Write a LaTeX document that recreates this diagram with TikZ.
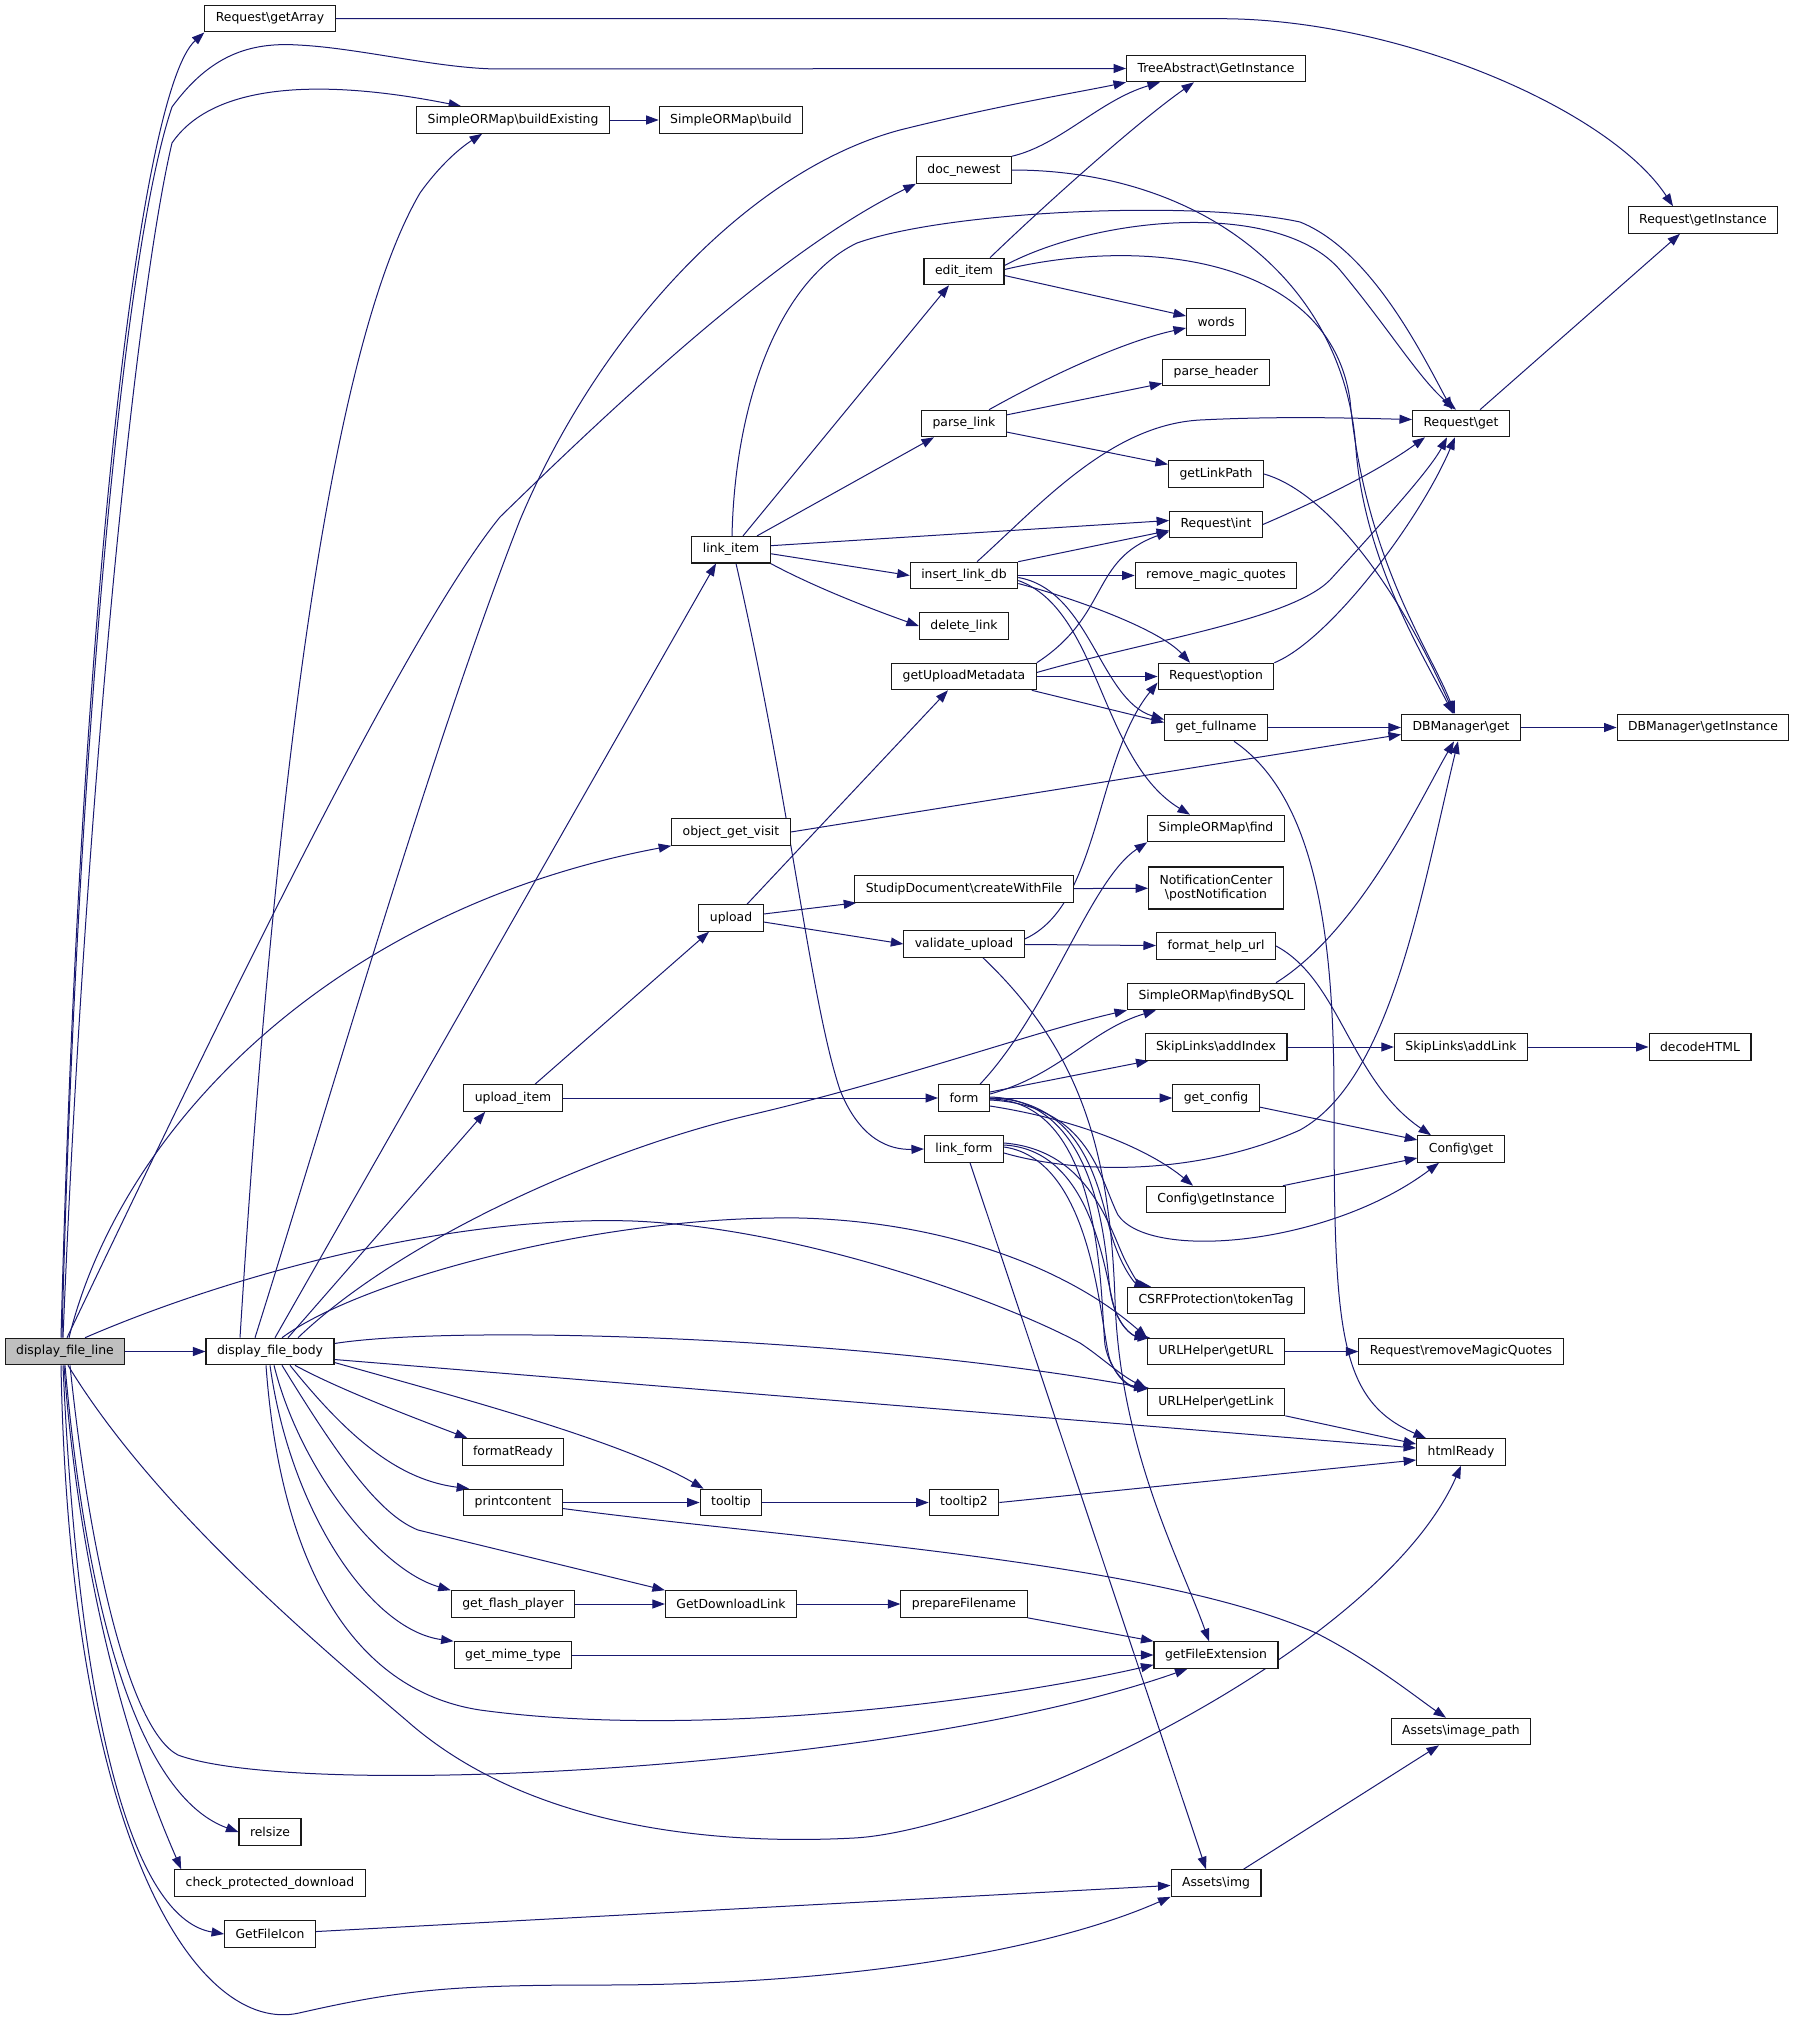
\documentclass[tikz,border=0pt]{standalone}
\usepackage{fontspec}
\setsansfont{DejaVu Sans}
\usepackage{xcolor}
\usetikzlibrary{arrows.meta,backgrounds}

\definecolor{edgeblue}{HTML}{191970}
\definecolor{nodegray}{HTML}{BFBFBF}
\newcommand{\bks}{\textbackslash}

\tikzset{
  fn/.style={draw=black!90, line width=1.1pt, fill=white,
    font=\sffamily\fontsize{12.4}{14.5}\selectfont,
    inner xsep=11pt, inner ysep=0pt, minimum height=26.5pt},
  call/.style={draw=edgeblue, line width=1pt, -{Triangle[length=12.5pt,width=9pt]}}
}

\begin{document}
\begin{tikzpicture}[x=1pt,y=-1pt]
    \useasboundingbox (0,0) rectangle (1797,2018);
    \pgfmathsetmacro{\xa}{65}	%columns
    \pgfmathsetmacro{\xb}{270}
    \pgfmathsetmacro{\xc}{513}
    \pgfmathsetmacro{\xd}{731}
    \pgfmathsetmacro{\xe}{964}
    \pgfmathsetmacro{\xf}{1216}
    \pgfmathsetmacro{\xg}{1461}
    \pgfmathsetmacro{\xh}{1703}

    \node[fn, fill=nodegray] (dfl) at (\xa,1351.5) {display\_file\_line};
    \node[fn] (dfb) at (\xb,1351.5) {display\_file\_body};
    \node[fn] (getArray) at (\xb,18.7) {Request\bks getArray};
    \node[fn] (treeGI) at (\xf,68.5) {TreeAbstract\bks GetInstance};
    \node[fn] (buildEx) at (\xc,120) {SimpleORMap\bks buildExisting};
    \node[fn] (build) at (\xd,120) {SimpleORMap\bks build};
    \node[fn] (docNewest) at (\xe,170) {doc\_newest};
    \node[fn] (reqGetInst) at (\xh,220) {Request\bks getInstance};
    \node[fn] (editItem) at (\xe,271.5) {edit\_item};
    \node[fn] (words) at (\xf,322) {words};
    \node[fn] (parseHeader) at (\xf,372.5) {parse\_header};
    \node[fn] (parseLink) at (\xe,423.5) {parse\_link};
    \node[fn] (reqGet) at (\xg,423.5) {Request\bks get};
    \node[fn] (getLinkPath) at (\xf,474) {getLinkPath};
    \node[fn] (reqInt) at (\xf,524.5) {Request\bks int};
    \node[fn] (linkItem) at (\xd,549.7) {link\_item};
    \node[fn] (insertLinkDb) at (\xe,575.5) {insert\_link\_db};
    \node[fn] (removeMQ) at (\xf,575.5) {remove\_magic\_quotes};
    \node[fn] (deleteLink) at (\xe,626) {delete\_link};
    \node[fn] (getUploadMeta) at (\xe,676.5) {getUploadMetadata};
    \node[fn] (reqOption) at (\xf,676.5) {Request\bks option};
    \node[fn] (getFullname) at (\xf,727.5) {get\_fullname};
    \node[fn] (dbGet) at (\xg,727.5) {DBManager\bks get};
    \node[fn] (dbGetInst) at (\xh,727.5) {DBManager\bks getInstance};
    \node[fn] (objVisit) at (\xd,832) {object\_get\_visit};
    \node[fn] (sormFind) at (\xf,828.5) {SimpleORMap\bks find};
    \node[fn] (createWithFile) at (\xe,889) {StudipDocument\bks createWithFile};
    \node[fn, align=center, minimum height=42pt] (notifPost) at (\xf,888) {NotificationCenter\\\bks postNotification};
    \node[fn] (upload) at (\xd,918) {upload};
    \node[fn] (validateUpload) at (\xe,944) {validate\_upload};
    \node[fn] (formatHelpUrl) at (\xf,946) {format\_help\_url};
    \node[fn] (findBySQL) at (\xf,996.5) {SimpleORMap\bks findBySQL};
    \node[fn] (skipAddIndex) at (\xf,1047) {SkipLinks\bks addIndex};
    \node[fn] (skipAddLink) at (\xg,1047) {SkipLinks\bks addLink};
    \node[fn] (decodeHTML) at (1700,1047) {decodeHTML};
    \node[fn] (uploadItem) at (\xc,1098) {upload\_item};
    \node[fn] (form) at (\xe,1098) {form};
    \node[fn] (getConfig) at (\xf,1098) {get\_config};
    \node[fn] (linkForm) at (\xe,1149) {link\_form};
    \node[fn] (confGet) at (\xg,1149) {Config\bks get};
    \node[fn] (confGetInst) at (\xf,1199.5) {Config\bks getInstance};
    \node[fn] (csrf) at (\xf,1300.5) {CSRFProtection\bks tokenTag};
    \node[fn] (getURL) at (\xf,1351.5) {URLHelper\bks getURL};
    \node[fn] (reqRemoveMQ) at (\xg,1351.5) {Request\bks removeMagicQuotes};
    \node[fn] (getLink) at (\xf,1402) {URLHelper\bks getLink};
    \node[fn] (formatReady) at (\xc,1452) {formatReady};
    \node[fn] (htmlReady) at (\xg,1452) {htmlReady};
    \node[fn] (printcontent) at (\xc,1502.5) {printcontent};
    \node[fn] (tooltip) at (\xd,1502.5) {tooltip};
    \node[fn] (tooltip2) at (\xe,1502.5) {tooltip2};
    \node[fn] (getFlash) at (\xc,1604) {get\_flash\_player};
    \node[fn] (getDownload) at (\xd,1604) {GetDownloadLink};
    \node[fn] (prepareFn) at (\xe,1604) {prepareFilename};
    \node[fn] (getMime) at (\xc,1655) {get\_mime\_type};
    \node[fn] (getFileExt) at (\xf,1655) {getFileExtension};
    \node[fn] (imagePath) at (\xg,1731.5) {Assets\bks image\_path};
    \node[fn] (relsize) at (\xb,1832) {relsize};
    \node[fn] (checkProt) at (\xb,1883) {check\_protected\_download};
    \node[fn] (assetsImg) at (\xf,1883) {Assets\bks img};
    \node[fn] (getFileIcon) at (\xb,1934) {GetFileIcon};

    \begin{pgfonlayer}{background}
    \fill[white] (0,0) rectangle (1797,2018);

    % display_file_line
    \draw[call] (dfl) -- (dfb);
    \draw[call] ([xshift=-4pt]dfl.north) .. controls (80,600) and (140,90) .. (getArray.south west);
    \draw[call] ([xshift=-3pt]dfl.north) .. controls (75,800) and (120,260) .. (172,107) .. controls (210,55) and (250,42) .. (298,45) .. controls (360,48) and (440,69) .. (500,69) -- (treeGI.west);
    \draw[call] ([xshift=-2pt]dfl.north) .. controls (85,800) and (135,300) .. (172,143) .. controls (215,80) and (330,80) .. ([xshift=45pt]buildEx.north west);
    \draw[call] ([xshift=2pt]dfl.north) .. controls (200,1060) and (400,640) .. (500,517) .. controls (620,400) and (780,250) .. (docNewest.south west);
    \draw[call] ([xshift=4pt]dfl.north) .. controls (120,1130) and (330,910) .. (objVisit.south west);
    \draw[call] ([xshift=20pt]dfl.north) .. controls (230,1275) and (450,1215) .. (633,1221) .. controls (800,1228) and (1000,1300) .. (1080,1343) .. controls (1100,1356) and (1120,1375) .. (getLink.north west);
    \draw[call] ([xshift=3pt]dfl.south) .. controls (150,1500) and (300,1630) .. (406,1720) .. controls (530,1830) and (720,1845) .. (854,1838) .. controls (1000,1830) and (1380,1650) .. (htmlReady.south);
    \draw[call] ([xshift=5pt]dfl.south) .. controls (90,1560) and (130,1730) .. (178,1755) .. controls (300,1800) and (900,1770) .. ([xshift=34pt]getFileExt.south west);
    \draw[call] (dfl.south) .. controls (90,1650) and (150,1800) .. (relsize.west);
    \draw[call] ([xshift=-1pt]dfl.south) .. controls (85,1650) and (160,1820) .. ([xshift=7pt]checkProt.north west);
    \draw[call] ([xshift=-2pt]dfl.south) .. controls (80,1750) and (140,1920) .. (getFileIcon.west);
    \draw[call] ([xshift=-4pt]dfl.south) .. controls (70,1850) and (200,2035) .. (299,2013) .. controls (400,1990) and (450,1985) .. (600,1985) .. controls (850,1985) and (1050,1950) .. (assetsImg.south west);

    % display_file_body
    \draw[call] ([xshift=-30pt]dfb.north) .. controls (280,700) and (340,330) .. (420,193) .. controls (440,165) and (460,148) .. ([xshift=66pt]buildEx.south west);
    \draw[call] ([xshift=-15pt]dfb.north) .. controls (330,1100) and (430,750) .. (520,520) .. controls (600,330) and (750,170) .. (900,130) .. controls (1000,105) and (1080,92) .. (treeGI.south west);
    \draw[call] ([xshift=5pt]dfb.north) -- ([xshift=-15pt]linkItem.south);
    \draw[call] ([xshift=18pt]dfb.north) -- ([xshift=22pt]uploadItem.south west);
    \draw[call] ([xshift=28pt]dfb.north) .. controls (400,1240) and (600,1150) .. (750,1115) .. controls (900,1080) and (1040,1030) .. (findBySQL.south west);
    \draw[call] ([xshift=12pt]dfb.north) .. controls (360,1280) and (600,1215) .. (800,1218) .. controls (950,1222) and (1070,1270) .. (getURL.north west);
    \draw[call] ([yshift=8pt]dfb.east) .. controls (450,1325) and (850,1335) .. (getLink.north west);
    \draw[call] ([yshift=-8pt]dfb.east) -- ([yshift=4pt]htmlReady.west);
    \draw[call] ([yshift=-11pt]dfb.east) .. controls (450,1395) and (620,1440) .. ([xshift=4pt]tooltip.north west);
    \draw[call] ([xshift=25pt]dfb.south) .. controls (340,1390) and (420,1420) .. ([xshift=6pt]formatReady.north west);
    \draw[call] ([xshift=20pt]dfb.south) .. controls (350,1440) and (400,1480) .. ([xshift=6pt]printcontent.north west);
    \draw[call] ([xshift=12pt]dfb.south) .. controls (340,1460) and (380,1515) .. (418,1530) -- (getDownload.north west);
    \draw[call] ([xshift=4pt]dfb.south) .. controls (300,1470) and (380,1570) .. (getFlash.north west);
    \draw[call] (dfb.south) .. controls (290,1510) and (370,1630) .. (getMime.north west);
    \draw[call] ([xshift=-4pt]dfb.south) .. controls (280,1560) and (350,1690) .. (480,1710) .. controls (700,1740) and (1000,1700) .. ([yshift=4pt]getFileExt.south west);

    % top rows
    \draw[call] (buildEx) -- (build);
    \draw[call] (getArray.east) -- (1220,18.7) .. controls (1400,18.7) and (1610,110) .. ([xshift=-30pt]reqGetInst.north);
    \draw[call] ([xshift=-30pt]reqGet.north east) -- ([xshift=-23pt]reqGetInst.south);
    \draw[call] (docNewest.north east) .. controls (1060,145) and (1100,100) .. ([xshift=34pt]treeGI.south west);
    \draw[call] (docNewest.east) .. controls (1200,170) and (1345,280) .. (1356,450) .. controls (1365,560) and (1420,650) .. ([xshift=-8pt]dbGet.north);
    \draw[call] ([xshift=26pt]editItem.north) .. controls (1050,200) and (1140,120) .. ([xshift=68pt]treeGI.south west);
    \draw[call] ([yshift=6pt]editItem.east) .. controls (1100,215) and (1280,200) .. (1340,270) .. controls (1390,330) and (1420,380) .. ([xshift=-5pt]reqGet.north);
    \draw[call] ([yshift=2pt]editItem.east) .. controls (1150,235) and (1330,260) .. (1350,400) .. controls (1365,560) and (1430,650) .. ([xshift=-6pt]dbGet.north);
    \draw[call] ([yshift=-4pt]editItem.east) -- ([yshift=6pt]words.west);
    \draw[call] ([xshift=25pt]parseLink.north) .. controls (1060,370) and (1130,340) .. ([yshift=-6pt]words.west);
    \draw[call] (parseLink) -- (parseHeader);
    \draw[call] (parseLink) -- (getLinkPath);
    \draw[call] (getLinkPath.east) .. controls (1320,490) and (1390,570) .. ([xshift=-7pt]dbGet.north);

    % link_item
    \draw[call] ([xshift=1pt]linkItem.north) .. controls (735,400) and (780,280) .. (857,243) .. controls (950,210) and (1200,200) .. (1300,222) .. controls (1370,250) and (1420,350) .. ([xshift=-9pt]reqGet.north);
    \draw[call] ([xshift=12pt]linkItem.north) -- ([xshift=-15pt]editItem.south);
    \draw[call] ([xshift=26pt]linkItem.north) -- ([xshift=-30pt]parseLink.south);
    \draw[call] ([yshift=4pt]linkItem.east) -- ([yshift=4pt]reqInt.west);
    \draw[call] ([yshift=-4pt]linkItem.east) -- (insertLinkDb.west);
    \draw[call] (linkItem.south east) .. controls (820,590) and (880,612) .. (deleteLink.west);
    \draw[call] ([xshift=5pt]linkItem.south) .. controls (790,800) and (810,1000) .. (840,1090) .. controls (860,1140) and (890,1150) .. (linkForm.west);

    % insert_link_db
    \draw[call] ([xshift=13pt]insertLinkDb.north) .. controls (1040,505) and (1110,425) .. (1200,420) .. controls (1280,416) and (1350,418) .. ([yshift=4pt]reqGet.west);
    \draw[call] (insertLinkDb.north east) -- ([yshift=-6pt]reqInt.west);
    \draw[call] (insertLinkDb) -- (removeMQ);
    \draw[call] ([yshift=-8pt]insertLinkDb.east) .. controls (1080,600) and (1160,630) .. ([xshift=-26pt]reqOption.north);
    \draw[call] ([yshift=-2pt]insertLinkDb.east) .. controls (1090,590) and (1100,700) .. ([yshift=8pt]getFullname.west);
    \draw[call] ([yshift=-5pt]insertLinkDb.east) .. controls (1100,610) and (1100,760) .. ([xshift=-26pt]sormFind.north);

    % getUploadMetadata and friends
    \draw[call] (reqInt.east) .. controls (1320,500) and (1380,470) .. ([xshift=-36pt]reqGet.south);
    \draw[call] (getUploadMeta.north east) .. controls (1110,615) and (1090,560) .. ([yshift=-7pt]reqInt.west);
    \draw[call] ([yshift=4pt]getUploadMeta.east) .. controls (1150,640) and (1290,620) .. (1330,580) .. controls (1380,525) and (1430,470) .. ([xshift=-14pt]reqGet.south);
    \draw[call] (reqOption.north east) .. controls (1330,640) and (1420,520) .. ([xshift=-6pt]reqGet.south);
    \draw[call] (getUploadMeta) -- (reqOption);
    \draw[call] ([xshift=-5pt]getUploadMeta.south east) -- ([yshift=5pt]getFullname.west);
    \draw[call] (getFullname) -- (dbGet);
    \draw[call] ([xshift=18pt]getFullname.south) .. controls (1320,800) and (1334,950) .. (1334,1100) .. controls (1334,1330) and (1338,1400) .. ([xshift=-35pt]htmlReady.north);
    \draw[call] (dbGet) -- (dbGetInst);
    \draw[call] (objVisit.east) -- ([yshift=-7pt]dbGet.west);

    % upload
    \draw[call] ([xshift=16pt]upload.north) -- ([xshift=-16pt]getUploadMeta.south);
    \draw[call] ([yshift=4pt]upload.east) -- ([xshift=2pt]createWithFile.south west);
    \draw[call] ([yshift=-4pt]upload.east) -- (validateUpload.west);
    \draw[call] (createWithFile) -- (notifPost);
    \draw[call] ([yshift=5pt]validateUpload.east) .. controls (1100,905) and (1095,760) .. ([yshift=-6pt]reqOption.west);
    \draw[call] (validateUpload) -- (formatHelpUrl);
    \draw[call] ([xshift=19pt]validateUpload.south) .. controls (1080,1050) and (1110,1150) .. (1115,1300) .. controls (1120,1450) and (1180,1560) .. ([xshift=-7pt]getFileExt.north);
    \draw[call] (formatHelpUrl.east) .. controls (1340,980) and (1350,1080) .. ([xshift=-30pt]confGet.north);
    \draw[call] ([xshift=60pt]findBySQL.north) .. controls (1360,930) and (1420,800) .. ([xshift=-7pt]dbGet.south);
    \draw[call] (skipAddIndex) -- (skipAddLink);
    \draw[call] (skipAddLink) -- (decodeHTML);

    % upload_item, form
    \draw[call] ([xshift=22pt]uploadItem.north) -- ([xshift=-22pt]upload.south);
    \draw[call] (uploadItem) -- (form);
    \draw[call] ([xshift=16pt]form.north) .. controls (1050,1010) and (1090,880) .. (sormFind.south west);
    \draw[call] ([yshift=4pt]form.east) .. controls (1060,1075) and (1090,1030) .. ([xshift=29pt]findBySQL.south west);
    \draw[call] ([yshift=6pt]form.east) -- ([xshift=4pt]skipAddIndex.south west);
    \draw[call] (form) -- (getConfig);
    \draw[call] ([yshift=-8pt]form.east) .. controls (1080,1120) and (1150,1150) .. ([xshift=-23pt]confGetInst.north);
    \draw[call] ([yshift=-2pt]form.east) .. controls (1090,1105) and (1100,1180) .. (1118,1215) .. controls (1150,1262) and (1330,1245) .. ([xshift=-22pt]confGet.south);
    \draw[call] (form.east) .. controls (1090,1100) and (1100,1200) .. (1113,1240) .. controls (1123,1270) and (1135,1283) .. ([xshift=20pt]csrf.north west);
    \draw[call] ([yshift=1pt]form.east) .. controls (1100,1100) and (1105,1250) .. (1110,1290) .. controls (1114,1320) and (1130,1335) .. (getURL.north west);
    \draw[call] ([yshift=-1pt]form.east) .. controls (1105,1100) and (1100,1300) .. (1105,1345) .. controls (1110,1372) and (1128,1386) .. (getLink.north west);

    % link_form
    \draw[call] ([yshift=6pt]linkForm.east) .. controls (1090,1150) and (1110,1230) .. (1125,1260) .. controls (1135,1280) and (1140,1285) .. ([xshift=24pt]csrf.north west);
    \draw[call] ([yshift=4pt]linkForm.east) .. controls (1095,1150) and (1105,1280) .. (1115,1310) .. controls (1122,1330) and (1135,1337) .. ([xshift=3pt]getURL.north west);
    \draw[call] ([yshift=2pt]linkForm.east) .. controls (1095,1160) and (1100,1330) .. (1110,1360) .. controls (1118,1380) and (1130,1388) .. ([xshift=3pt]getLink.north west);
    \draw[call] ([yshift=-4pt]linkForm.east) .. controls (1080,1175) and (1200,1175) .. (1300,1130) .. controls (1390,1080) and (1420,900) .. ([xshift=-3pt]dbGet.south);
    \draw[call] ([xshift=6pt]linkForm.south) -- ([xshift=-10pt]assetsImg.north);

    % lower rows
    \draw[call] (getConfig) -- (confGet);
    \draw[call] (confGetInst) -- (confGet);
    \draw[call] (getURL) -- (reqRemoveMQ);
    \draw[call] (getLink.south east) -- ([yshift=8pt]htmlReady.west);
    \draw[call] (printcontent) -- (tooltip);
    \draw[call] ([yshift=-6pt]printcontent.east) .. controls (800,1540) and (1150,1560) .. (1316,1633) .. controls (1370,1660) and (1420,1700) .. ([xshift=-15pt]imagePath.north);
    \draw[call] (tooltip) -- (tooltip2);
    \draw[call] (tooltip2.east) -- ([yshift=-8pt]htmlReady.west);
    \draw[call] (getFlash) -- (getDownload);
    \draw[call] (getDownload) -- (prepareFn);
    \draw[call] (prepareFn.south east) -- (getFileExt.north west);
    \draw[call] (getMime) -- (getFileExt);
    \draw[call] ([xshift=-18pt]assetsImg.north east) -- ([xshift=-22pt]imagePath.south);
    \draw[call] (getFileIcon) -- (assetsImg);
    \end{pgfonlayer}
\end{tikzpicture}
\end{document}
